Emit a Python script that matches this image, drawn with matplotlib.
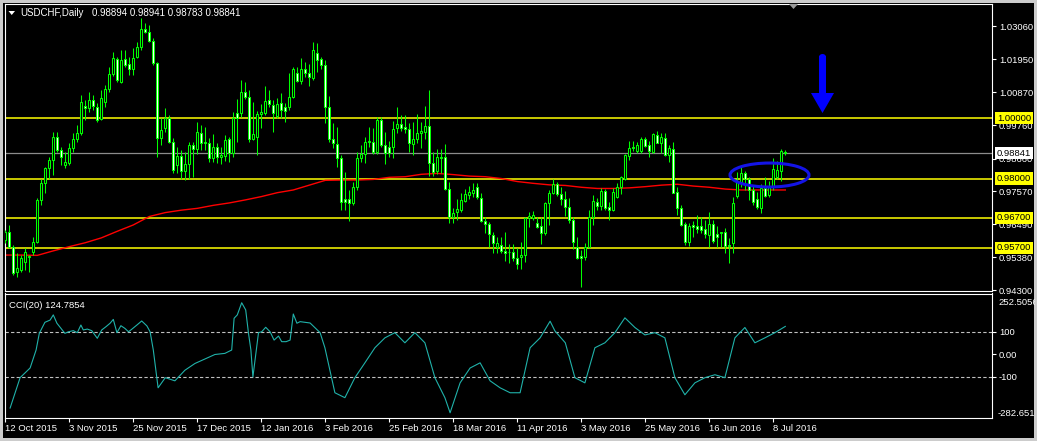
import numpy as np
import matplotlib
matplotlib.use('Agg')
import matplotlib.pyplot as plt
from matplotlib.patches import Rectangle, Ellipse, Polygon
import matplotlib.transforms as mtransforms

# ---------------- data ----------------
opens = [0.9596,0.9624,0.9574,0.9491,0.9496,0.9524,0.9541,0.9557,0.9590,0.9729,
         0.9784,0.9834,0.9861,0.9939,0.9894,0.9845,0.9850,0.9900,0.9930,0.9950,
         1.0040,1.0033,1.0060,1.0038,0.9996,1.0055,1.0096,1.0146,1.0195,1.0121,
         1.0195,1.0180,1.0163,1.0204,1.0235,1.0295,1.0287,1.0257,1.0182,0.9933,
         0.9966,1.0000,0.9922,0.9845,0.9875,0.9826,0.9848,0.9911,0.9897,0.9952,
         0.9920,0.9919,0.9867,0.9903,0.9870,0.9876,0.9930,0.9886,1.0018,1.0018,
         1.0086,1.0069,0.9930,0.9939,1.0013,1.0016,1.0060,1.0043,1.0009,1.0049,
         1.0036,1.0036,1.0069,1.0149,1.0124,1.0164,1.0149,1.0132,1.0215,1.0195,
         1.0177,1.0038,0.9930,0.9913,0.9867,0.9731,0.9731,0.9718,0.9771,0.9867,
         0.9881,0.9921,0.9920,0.9889,0.9994,0.9911,0.9903,0.9903,0.9966,0.9980,
         0.9970,0.9963,0.9913,0.9930,0.9950,0.9955,0.9974,0.9850,0.9826,0.9870,
         0.9870,0.9764,0.9673,0.9690,0.9695,0.9726,0.9745,0.9753,0.9771,0.9734,
         0.9660,0.9648,0.9612,0.9572,0.9580,0.9560,0.9557,0.9555,0.9537,0.9539,
         0.9546,0.9669,0.9668,0.9651,0.9642,0.9618,0.9718,0.9751,0.9783,0.9747,
         0.9731,0.9707,0.9664,0.9572,0.9543,0.9541,0.9574,0.9673,0.9721,0.9710,
         0.9758,0.9707,0.9695,0.9740,0.9773,0.9798,0.9876,0.9903,0.9892,0.9892,
         0.9930,0.9910,0.9889,0.9944,0.9919,0.9936,0.9878,0.9897,0.9756,0.9701,
         0.9648,0.9590,0.9646,0.9643,0.9642,0.9632,0.9612,0.9649,0.9616,0.9618,
         0.9621,0.9580,0.9587,0.9742,0.9784,0.9817,0.9798,0.9762,0.9731,0.9701,
         0.9767,0.9745,0.9773,0.9806,0.9826,0.98894]
highs = [0.9629,0.9646,0.9579,0.9552,0.9546,0.9568,0.9546,0.9607,0.9734,0.9800,
         0.9839,0.9872,0.9955,0.9955,0.9906,0.9889,0.9917,0.9950,0.9977,1.0077,
         1.0060,1.0088,1.0077,1.0049,1.0094,1.0110,1.0171,1.0221,1.0204,1.0226,
         1.0226,1.0204,1.0232,1.0254,1.0331,1.0315,1.0309,1.0265,1.0188,1.0000,
         1.0033,1.0011,0.9933,0.9906,0.9894,0.9889,0.9922,0.9922,0.9988,0.9977,
         0.9972,0.9933,0.9948,0.9917,0.9906,0.9944,0.9939,1.0022,1.0063,1.0127,
         1.0121,1.0094,1.0055,1.0024,1.0047,1.0107,1.0094,1.0060,1.0066,1.0083,
         1.0049,1.0149,1.0171,1.0169,1.0199,1.0188,1.0180,1.0254,1.0248,1.0204,
         1.0193,1.0074,0.9983,0.9972,0.9878,0.9820,0.9762,0.9789,0.9889,0.9911,
         0.9939,0.9970,0.9969,1.0003,1.0003,0.9955,0.9926,0.9991,1.0036,1.0011,
         1.0011,0.9985,0.9989,1.0014,0.9989,1.0041,1.0094,0.9889,0.9897,0.9898,
         0.9914,0.9790,0.9701,0.9732,0.9751,0.9764,0.9775,0.9786,0.9786,0.9751,
         0.9673,0.9657,0.9624,0.9607,0.9605,0.9621,0.9583,0.9583,0.9568,0.9590,
         0.9673,0.9690,0.9693,0.9673,0.9673,0.9723,0.9762,0.9799,0.9790,0.9773,
         0.9757,0.9734,0.9671,0.9607,0.9563,0.9585,0.9695,0.9745,0.9734,0.9767,
         0.9764,0.9723,0.9767,0.9784,0.9808,0.9881,0.9924,0.9926,0.9922,0.9937,
         0.9937,0.9924,0.9950,0.9958,0.9950,0.9950,0.9911,0.9920,0.9773,0.9713,
         0.9657,0.9651,0.9660,0.9679,0.9673,0.9662,0.9690,0.9662,0.9642,0.9624,
         0.9635,0.9604,0.9740,0.9823,0.9837,0.9826,0.9806,0.9778,0.9756,0.9782,
         0.9806,0.9793,0.9867,0.9858,0.9897,0.98941]
lows = [0.9585,0.9568,0.9480,0.9474,0.9491,0.9496,0.9491,0.9546,0.9585,0.9712,
        0.9751,0.9800,0.9812,0.9889,0.9845,0.9834,0.9845,0.9889,0.9922,0.9944,
        0.9994,1.0022,1.0027,0.9988,0.9994,1.0038,1.0088,1.0140,1.0121,1.0116,
        1.0171,1.0143,1.0143,1.0199,1.0226,1.0282,1.0254,1.0177,0.9872,0.9911,
        0.9955,0.9917,0.9817,0.9817,0.9800,0.9795,0.9800,0.9806,0.9883,0.9894,
        0.9894,0.9856,0.9856,0.9850,0.9848,0.9859,0.9856,0.9872,0.9922,1.0005,
        1.0063,0.9922,0.9928,0.9878,0.9966,1.0011,1.0038,0.9955,1.0000,1.0000,
        0.9988,1.0027,1.0066,1.0121,1.0113,1.0138,1.0107,1.0127,1.0154,1.0165,
        0.9983,0.9922,0.9900,0.9839,0.9695,0.9695,0.9660,0.9712,0.9762,0.9856,
        0.9850,0.9903,0.9881,0.9883,0.9906,0.9848,0.9872,0.9867,0.9950,0.9959,
        0.9952,0.9889,0.9878,0.9917,0.9900,0.9930,0.9808,0.9808,0.9815,0.9817,
        0.9762,0.9651,0.9651,0.9662,0.9690,0.9723,0.9731,0.9740,0.9731,0.9657,
        0.9620,0.9572,0.9554,0.9552,0.9552,0.9527,0.9521,0.9526,0.9499,0.9499,
        0.9524,0.9638,0.9662,0.9635,0.9583,0.9612,0.9646,0.9749,0.9742,0.9712,
        0.9676,0.9651,0.9565,0.9532,0.9441,0.9530,0.9568,0.9646,0.9695,0.9695,
        0.9695,0.9662,0.9693,0.9734,0.9749,0.9795,0.9861,0.9892,0.9886,0.9886,
        0.9906,0.9870,0.9884,0.9917,0.9886,0.9875,0.9856,0.9751,0.9679,0.9642,
        0.9579,0.9576,0.9607,0.9620,0.9618,0.9601,0.9574,0.9585,0.9574,0.9574,
        0.9552,0.9521,0.9552,0.9734,0.9773,0.9762,0.9729,0.9712,0.9698,0.9684,
        0.9740,0.9740,0.9762,0.9797,0.9793,0.98783]
closes = [0.9624,0.9574,0.9485,0.9502,0.9535,0.9557,0.9543,0.9590,0.9729,0.9784,
          0.9834,0.9861,0.9939,0.9894,0.9872,0.9854,0.9900,0.9930,0.9950,1.0055,
          1.0033,1.0060,1.0042,0.9994,1.0066,1.0096,1.0146,1.0199,1.0127,1.0193,
          1.0177,1.0163,1.0199,1.0235,1.0295,1.0287,1.0257,1.0182,0.9933,0.9961,
          1.0000,0.9922,0.9828,0.9875,0.9825,0.9848,0.9911,0.9897,0.9955,0.9917,
          0.9917,0.9867,0.9903,0.9872,0.9878,0.9928,0.9886,1.0000,1.0000,1.0088,
          1.0069,0.9930,0.9948,1.0013,1.0021,1.0057,1.0046,1.0016,1.0046,1.0027,
          1.0025,1.0069,1.0162,1.0124,1.0165,1.0149,1.0136,1.0228,1.0193,1.0177,
          1.0038,0.9930,0.9917,0.9867,0.9723,0.9723,0.9720,0.9771,0.9867,0.9883,
          0.9922,0.9924,0.9889,0.9994,0.9911,0.9886,0.9886,0.9963,0.9980,0.9969,
          0.9963,0.9917,0.9930,0.9950,0.9958,0.9974,0.9850,0.9823,0.9870,0.9868,
          0.9764,0.9673,0.9684,0.9698,0.9729,0.9747,0.9754,0.9762,0.9738,0.9660,
          0.9648,0.9615,0.9587,0.9585,0.9560,0.9554,0.9555,0.9535,0.9515,0.9546,
          0.9670,0.9676,0.9679,0.9640,0.9618,0.9718,0.9751,0.9781,0.9747,0.9731,
          0.9707,0.9662,0.9590,0.9537,0.9535,0.9574,0.9673,0.9726,0.9710,0.9758,
          0.9703,0.9695,0.9754,0.9773,0.9804,0.9878,0.9902,0.9900,0.9911,0.9930,
          0.9909,0.9891,0.9947,0.9919,0.9937,0.9878,0.9900,0.9753,0.9701,0.9646,
          0.9590,0.9643,0.9640,0.9632,0.9629,0.9615,0.9649,0.9593,0.9607,0.9621,
          0.9577,0.9576,0.9718,0.9790,0.9817,0.9797,0.9762,0.9723,0.9704,0.9767,
          0.9743,0.9773,0.9830,0.9828,0.9891,0.98841]

ma_bar = list(range(0, 193, 4)) + [195]
ma_vals = [0.9546,0.9546,0.9545,0.9560,0.9574,0.9587,0.9603,0.9625,0.9646,0.9674,
           0.9687,0.9695,0.9701,0.9711,0.9719,0.9729,0.9740,0.9753,0.9762,0.9778,
           0.9794,0.9795,0.9795,0.9797,0.9804,0.9806,0.9814,0.9817,0.9813,0.9808,
           0.9806,0.9800,0.9790,0.9784,0.9779,0.9777,0.9771,0.9767,0.9767,0.9769,
           0.9773,0.9778,0.9781,0.9775,0.9771,0.9765,0.9762,0.9762,0.9762,0.9762]

cci_bar = [1.2,3.7,6.2,7.7,8.5,9.9,11.2,12.0,12.9,14.1,14.9,15.8,17.0,18.0,18.9,19.5,20.5,21.6,23.0,24.1,
           25.2,26.2,27.0,27.9,28.9,29.9,30.8,31.6,32.9,34.1,35.4,36.2,37.0,38.2,40.0,42.4,44.9,47.4,49.9,52.4,
           54.9,56.6,57.2,58.0,59.1,60.1,60.8,61.4,61.9,63.3,64.1,65.1,66.2,67.2,68.3,69.1,70.2,71.2,72.0,72.9,
           73.7,76.2,78.7,79.9,82.4,84.9,87.4,89.9,92.4,94.9,97.4,99.9,102.4,104.9,107.4,109.9,111.2,113.7,116.2,118.7,
           121.2,123.7,126.2,128.7,131.2,133.7,136.2,137.4,140,142.4,144.9,147.4,149.9,152.4,154.9,157.4,159.9,162.4,164.9,167.4,
           169.9,172.4,174.9,177.4,179.9,182.4,184.9,187.4,189.9,192.4,195]
cci_vals = [-238,-103,-60,20,94,143,153,176,139,112,94,101,106,97,131,109,113,106,72,109,
            124,139,156,97,128,116,101,112,131,149,127,101,20,-148,-103,-117,-70,-40,-20,0,
            5,20,161,176,230,198,94,20,-100,97,101,121,101,64,82,57,57,64,180,139,
            146,140,97,30,-170,-192,-103,-37,30,74,97,52,97,52,-103,-192,-259,-126,-60,-37,
            -117,-148,-170,-170,30,74,148,105,52,-103,-126,30,52,97,163,120,87,97,74,-103,
            -179,-126,-103,-90,-103,74,120,52,74,97,124.8]

levels = [1.0, 0.98, 0.967, 0.957]
last_price = 0.98841
price_ticks = [1.0306, 1.0195, 1.0087, 0.9976, 0.9866, 0.9757, 0.9649, 0.9538, 0.9430]
date_bars = list(range(0, 193, 16))
date_labels = ['12 Oct 2015', '3 Nov 2015', '25 Nov 2015', '17 Dec 2015', '12 Jan 2016',
               '3 Feb 2016', '25 Feb 2016', '18 Mar 2016', '11 Apr 2016', '3 May 2016',
               '25 May 2016', '16 Jun 2016', '8 Jul 2016']

# ---------------- figure ----------------
W, H = 1037, 441
FONT = 'Liberation Sans'
FS = 6.8
plt.rcParams['font.family'] = [FONT, 'DejaVu Sans']

fig = plt.figure(figsize=(W / 100, H / 100), dpi=100, facecolor='#cccccc')
pix = mtransforms.Affine2D().scale(1.0 / W, -1.0 / H).translate(0, 1) + fig.transFigure

fig.patches.append(Rectangle((3, 3), 1031, 434.5, transform=pix, facecolor='black',
                             edgecolor='none', zorder=-10))
# right window edge drawn over anything that spills past it
fig.patches.append(Rectangle((1034.5, 0), 3, 441, transform=pix, facecolor='#cccccc',
                             edgecolor='none', zorder=20))

def fx(px):
    return px / W

def fy(py):
    return 1 - py / H

ax = fig.add_axes([fx(4.5), fy(291), (992 - 4.5) / W, (291 - 3.5) / H])
ax2 = fig.add_axes([fx(4.5), fy(417.7), (992 - 4.5) / W, (417.7 - 293.5) / H])

for a in (ax, ax2):
    a.set_facecolor('black')
    for s in a.spines.values():
        s.set_color('white')
        s.set_linewidth(0.8)
    a.set_xlim(-0.2, 246.675)

n = len(opens)
xs = np.arange(n)
ax.set_ylim(0.94268, 1.03807)

# horizontal levels
for lev in levels:
    ax.axhline(lev, color='#ffff00', lw=1.1, zorder=1)
ax.axhline(last_price, color='#8c8c8c', lw=0.9, zorder=1)

# moving average
ax.plot(ma_bar, ma_vals, color='#ff0000', lw=1.0, zorder=2)

# candles
ax.vlines(xs, lows, highs, color='#00ff00', lw=0.75, zorder=3)
for i in range(n):
    o, c = opens[i], closes[i]
    lo, hi = min(o, c), max(o, c)
    h = max(hi - lo, 0.00004)
    fc = 'black' if c >= o else 'white'
    ax.add_patch(Rectangle((xs[i] - 0.25, lo), 0.5, h, facecolor=fc, edgecolor='#00ff00',
                           lw=0.75, zorder=4))

# right price scale
ax.set_xticks([])
ax.yaxis.tick_right()
ax.set_yticks(price_ticks)
ax.set_yticklabels(['%.5f' % p for p in price_ticks])
ax.tick_params(axis='y', colors='white', length=3, width=0.8, labelsize=FS, pad=2)

blend = mtransforms.blended_transform_factory(ax.transAxes, ax.transData)
boxtr = mtransforms.offset_copy(blend, fig=fig, x=5, y=0, units='dots')
for lev in levels:
    ax.text(1.0, lev, '%.5f' % lev, transform=boxtr, ha='left', va='center', fontsize=FS,
            color='black', clip_on=False, zorder=10,
            bbox=dict(boxstyle='square,pad=0.18', facecolor='#ffff00', edgecolor='none'))
ax.text(1.0, last_price, '%.5f' % last_price, transform=boxtr, ha='left', va='center',
        fontsize=FS, color='black', clip_on=False, zorder=10,
        bbox=dict(boxstyle='square,pad=0.18', facecolor='white', edgecolor='none'))

# header
fig.patches.append(Polygon([(8.5, 11), (15, 11), (11.75, 15)], closed=True, transform=pix,
                           facecolor='white', edgecolor='none'))
fig.text(fx(20.7), fy(13.3), 'USDCHF,Daily', color='white', fontsize=FS + 0.2, va='center', ha='left')
fig.text(fx(91.7), fy(13.3), '%.5f %.5f %.5f %.5f' % (opens[-1], highs[-1], lows[-1], closes[-1]),
         color='white', fontsize=FS + 0.2, va='center', ha='left')

# small gray marker at top
fig.patches.append(Polygon([(789, 4), (798, 4), (793.5, 9)], closed=True, transform=pix,
                           facecolor='#9a9a9a', edgecolor='none', zorder=5))

# blue ellipse annotation
ax.add_patch(Ellipse((191.05, 0.98116), 19.75, 0.00796, fill=False, edgecolor='#1414e6',
                     lw=2.2, zorder=6))

# blue arrow annotation
arrow_pts = [(819, 56), (826, 56), (826, 93), (834, 93), (822.5, 113), (811, 93), (819, 93)]
fig.patches.append(Polygon(arrow_pts, closed=True, transform=pix, facecolor='#0000ff',
                           edgecolor='none', zorder=5))
fig.patches.append(Ellipse((822.5, 57), 7, 6, transform=pix, facecolor='#0000ff',
                           edgecolor='none', zorder=5))

# ---------------- CCI panel ----------------
ax2.set_ylim(-280.9, 271.1)
ax2.axhline(100, color='#c0c0c0', lw=0.8, ls=(0, (3, 2)))
ax2.axhline(-100, color='#c0c0c0', lw=0.8, ls=(0, (3, 2)))
ax2.plot(cci_bar, cci_vals, color='#20b2aa', lw=0.8)
ax2.yaxis.tick_right()
ax2.set_yticks([100, 0, -100])
ax2.set_yticklabels(['100', '0.00', '-100'])
ax2.tick_params(axis='y', colors='white', length=3, width=0.8, labelsize=FS, pad=2)
b2 = mtransforms.blended_transform_factory(ax2.transAxes, ax2.transData)
b2o = mtransforms.offset_copy(b2, fig=fig, x=6, y=0, units='dots')
ax2.text(1.0, 252.5056, '252.5056', transform=b2o, ha='left', va='top', fontsize=FS,
         color='white', clip_on=False)
ax2.text(1.0, -282.6519, '-282.6519', transform=b2o, ha='left', va='bottom', fontsize=FS,
         color='white', clip_on=False)
fig.text(fx(9.3), fy(305), 'CCI(20) 124.7854', color='white', fontsize=FS, va='center', ha='left')

ax2.set_xticks(date_bars)
ax2.set_xticklabels(date_labels)
for lab in ax2.get_xticklabels():
    lab.set_horizontalalignment('left')
ax2.tick_params(axis='x', colors='white', length=3, width=0.8, labelsize=FS, pad=1.5)

fig.savefig('out.png', dpi=100, facecolor=fig.get_facecolor())
